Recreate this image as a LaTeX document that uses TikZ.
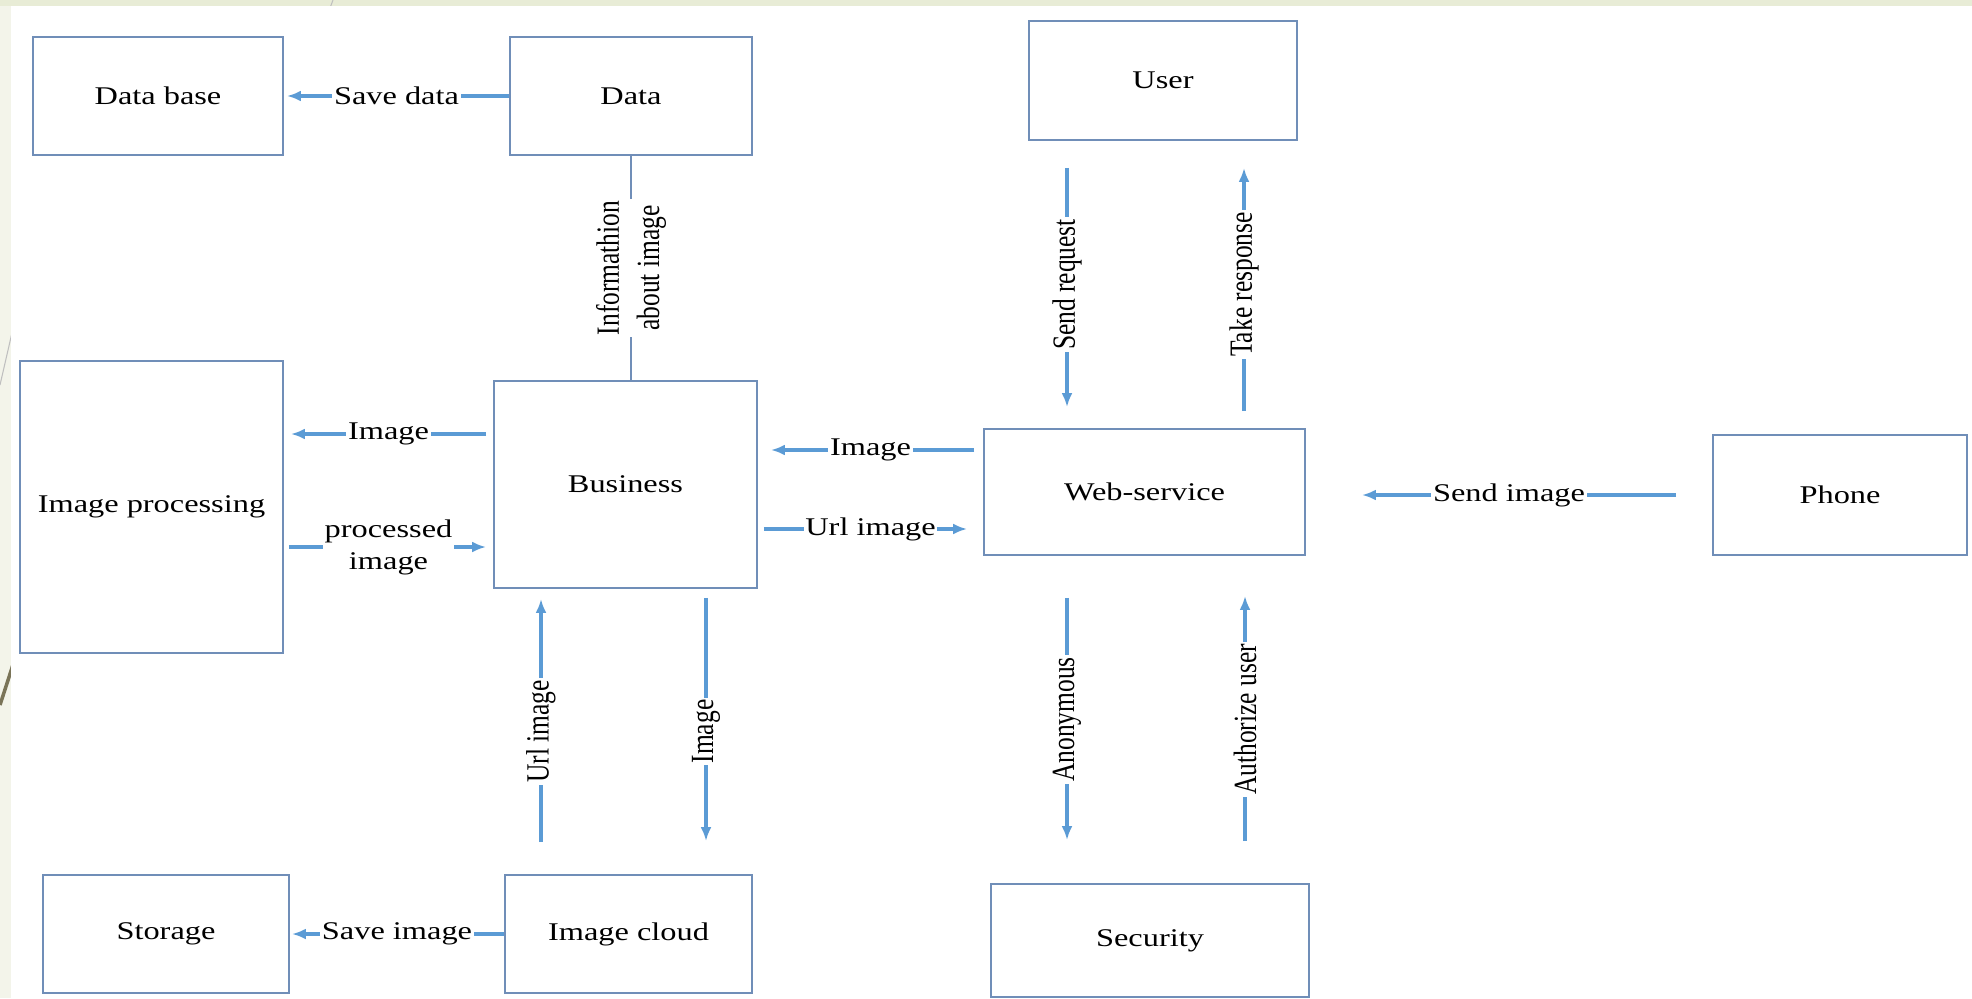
\documentclass[tikz,border=0pt]{standalone}
\usepackage{fontspec}
\setmainfont{Liberation Serif}
\usepackage{graphicx}
\usetikzlibrary{arrows.meta}
\definecolor{boxline}{RGB}{112,142,184}
\definecolor{arrowblue}{RGB}{91,155,213}
\definecolor{slidetop}{RGB}{232,236,214}
\definecolor{slideside}{RGB}{243,244,234}
\definecolor{slideline}{RGB}{122,116,88}
\newcommand{\hs}[1]{\scalebox{1.27}[1]{#1}}
\newcommand{\vs}[1]{\scalebox{1}[1.27]{#1}}
\tikzset{
    every node/.style={font=\fontsize{14.5}{18}\selectfont, text=black}
}
\tikzset{
    box/.style={rectangle, draw=boxline, line width=1.1pt, fill=white, inner sep=0pt},
    arr/.style={draw=arrowblue, line width=1.9pt, -{Latex[length=2.8mm,width=2.2mm]}},
    lab/.style={fill=white, inner sep=1pt, text=black},
    vlab/.style={lab, rotate=90}
}

\begin{document}
\begin{tikzpicture}
        \useasboundingbox (0cm, 0cm) rectangle (39.44cm, 19.96cm);
        % slide frame
        \fill[slidetop] (0cm, 0cm) rectangle (39.44cm, 19.96cm);
        \fill[slideside] (0cm, 0cm) rectangle (0.22cm, 19.84cm);
        \draw[black!25, line width=0.6pt] (6.66cm, 19.96cm) -- (6.30cm, 19.00cm);
        \draw[black!25, line width=0.6pt] (0.40cm, 14.00cm) -- (0cm, 12.26cm);
        \draw[slideline, line width=2pt] (0.40cm, 7.10cm) -- (0cm, 5.86cm);
        \fill[white] (0.22cm, 0cm) rectangle (39.44cm, 19.84cm);

        \node (db) [box, minimum width=5.00cm, minimum height=2.36cm] at (3.16cm, 18.04cm) {\hs{Data base}};
        \node (data) [box, minimum width=4.84cm, minimum height=2.36cm] at (12.62cm, 18.04cm) {\hs{Data}};
        \node (user) [box, minimum width=5.36cm, minimum height=2.38cm] at (23.26cm, 18.35cm) {\hs{User}};
        \node (ip) [box, minimum width=5.26cm, minimum height=5.84cm] at (3.03cm, 9.82cm) {\hs{Image processing}};
        \node (biz) [box, minimum width=5.26cm, minimum height=4.14cm] at (12.51cm, 10.27cm) {\hs{Business}};
        \node (web) [box, minimum width=6.42cm, minimum height=2.52cm] at (22.89cm, 10.12cm) {\hs{Web-service}};
        \node (phone) [box, minimum width=5.08cm, minimum height=2.40cm] at (36.80cm, 10.06cm) {\hs{Phone}};
        \node (store) [box, minimum width=4.92cm, minimum height=2.36cm] at (3.32cm, 1.28cm) {\hs{Storage}};
        \node (cloud) [box, minimum width=4.94cm, minimum height=2.36cm] at (12.57cm, 1.28cm) {\hs{Image cloud}};
        \node (sec) [box, minimum width=6.36cm, minimum height=2.26cm] at (23.00cm, 1.15cm) {\hs{Security}};

        % data side
        \draw[arr, shorten >=0.06cm] (data.west) -- node[lab] {\hs{Save data}} (db.east);
        \draw[boxline, line width=1pt] (data.south) -- node[vlab] {\vs{\begin{tabular}{@{}c@{}}Informathion\\about image\end{tabular}}} (data.south |- biz.north);

        % image processing
        \draw[arr, shorten <=0.14cm, shorten >=0.14cm] ([yshift=1.01cm]biz.west) -- node[lab] {\hs{Image}} ([yshift=1.01cm]biz.west -| ip.east);
        \draw[arr, shorten <=0.10cm, shorten >=0.14cm] ([yshift=-1.25cm]biz.west -| ip.east) -- node[lab] {\hs{\begin{tabular}{@{}c@{}}processed\\image\end{tabular}}} ([yshift=-1.25cm]biz.west);

        % web-service and business
        \draw[arr, shorten <=0.18cm, shorten >=0.26cm] ([yshift=0.84cm]web.west) -- node[lab] {\hs{Image}} ([yshift=0.84cm]web.west -| biz.east);
        \draw[arr, shorten <=0.12cm, shorten >=0.32cm] ([yshift=-0.74cm]web.west -| biz.east) -- node[lab] {\hs{Url image}} ([yshift=-0.74cm]web.west);
        \draw[arr, shorten <=0.72cm, shorten >=1.12cm] (phone.west) -- node[lab] {\hs{Send image}} (phone.west -| web.east);

        % user
        \draw[arr, shorten <=0.54cm, shorten >=0.42cm] ([xshift=-1.92cm]user.south) -- node[vlab] {\vs{Send request}} ([xshift=-1.92cm]user.south |- web.north);
        \draw[arr, shorten <=0.34cm, shorten >=0.54cm] ([xshift=1.62cm]user.south |- web.north) -- node[vlab] {\vs{Take response}} ([xshift=1.62cm]user.south);

        % image cloud
        \draw[arr, shorten <=0.64cm, shorten >=0.20cm] ([xshift=-1.75cm]cloud.north) -- node[vlab] {\vs{Url image}} ([xshift=-1.75cm]cloud.north |- biz.south);
        \draw[arr, shorten <=0.18cm, shorten >=0.66cm] ([xshift=1.55cm]cloud.north |- biz.south) -- node[vlab] {\vs{Image}} ([xshift=1.55cm]cloud.north);
        \draw[arr, shorten >=0.04cm] (cloud.west) -- node[lab] {\hs{Save image}} (store.east);

        % security
        \draw[arr, shorten <=0.84cm, shorten >=0.86cm] ([xshift=-1.55cm]web.south) -- node[vlab] {\vs{Anonymous}} ([xshift=-1.55cm]web.south |- sec.north);
        \draw[arr, shorten <=0.84cm, shorten >=0.80cm] ([xshift=2.01cm]web.south |- sec.north) -- node[vlab] {\vs{Authorize user}} ([xshift=2.01cm]web.south);
\end{tikzpicture}
\end{document}
